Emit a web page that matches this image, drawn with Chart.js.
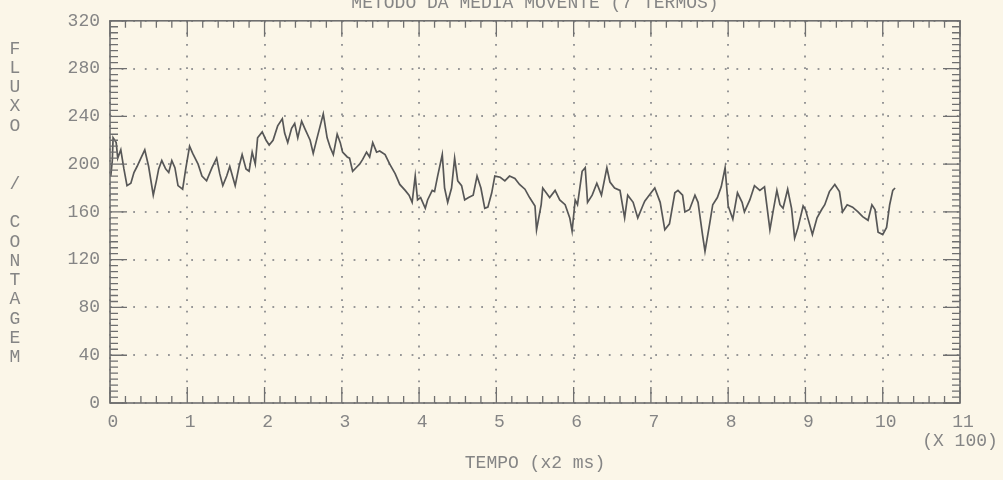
<!DOCTYPE html>
<html>
<head>
<meta charset="utf-8">
<script src="https://cdn.jsdelivr.net/npm/chart.js@4.4.0/dist/chart.umd.min.js"></script>
<style>
  html, body { margin: 0; padding: 0; background: #fbf6e8; }
  #wrap { width: 1003px; height: 480px; }
</style>
</head>
<body>
<div id="wrap"><canvas id="c" width="1003" height="480"></canvas></div>
<script>
// chart texts
const chartTitle = 'METODO DA MEDIA MOVENTE (7 TERMOS)';
const yLabel = 'FLUXO  / CONTAGEM';
const xLabel = 'TEMPO (x2 ms)';
const xUnit = '(X 100)';

// x = sample number (axis labels are in hundreds), y = moving average value
const samples = [1, 3, 4, 8, 10, 14, 18, 22, 27, 31, 35, 40, 45, 50, 56, 60, 63, 67, 72, 76,
  80, 84, 88, 94, 98, 103, 107, 114, 119, 125, 132, 138, 142, 146, 151, 155, 162, 167, 171, 176,
  180, 184, 188, 191, 197, 202, 206, 211, 217, 223, 226, 230, 235, 239, 243, 248, 252, 259, 263, 268,
  272, 276, 281, 285, 289, 294, 298, 301, 307, 310, 314, 320, 323, 327, 332, 336, 340, 345, 349, 356,
  362, 369, 375, 382, 387, 391, 395, 398, 402, 408, 411, 417, 420, 424, 430, 433, 437, 442, 446, 450,
  455, 459, 464, 470, 475, 480, 485, 489, 494, 498, 505, 511, 517, 524, 530, 537, 543, 550, 552, 558,
  560, 569, 576, 582, 589, 595, 598, 602, 605, 611, 615, 618, 624, 630, 636, 643, 647, 653, 660, 666,
  670, 677, 683, 690, 692, 699, 705, 712, 718, 724, 731, 735, 741, 744, 750, 757, 761, 767, 770, 776,
  780, 786, 791, 796, 800, 806, 812, 818, 821, 828, 834, 841, 847, 854, 858, 863, 867, 871, 877, 882,
  886, 890, 897, 900, 903, 909, 915, 921, 925, 931, 938, 944, 948, 954, 961, 968, 974, 981, 986, 990,
  994, 1000, 1005, 1009, 1013, 1016];
const fluxo = [190, 203, 222, 218, 205, 212, 196, 182, 184, 193, 198, 205, 212, 198, 174, 186, 196, 203, 196, 193,
  203, 197, 182, 179, 196, 215, 209, 200, 190, 186, 197, 205, 192, 182, 190, 198, 182, 198, 208, 196,
  194, 210, 200, 222, 227, 220, 216, 220, 232, 238, 226, 218, 230, 234, 222, 236, 230, 220, 209, 222,
  232, 242, 222, 214, 208, 225, 218, 210, 206, 205, 194, 198, 200, 204, 210, 206, 218, 210, 211, 208,
  200, 192, 183, 178, 174, 168, 190, 170, 172, 163, 170, 178, 177, 190, 208, 180, 168, 180, 205, 186,
  182, 170, 172, 174, 190, 180, 163, 164, 176, 190, 189, 186, 190, 188, 183, 179, 172, 165, 145, 166,
  180, 172, 178, 170, 166, 155, 144, 170, 166, 194, 197, 168, 174, 184, 174, 197, 185, 180, 178, 155,
  174, 168, 155, 166, 169, 175, 180, 168, 145, 150, 176, 178, 174, 160, 162, 174, 168, 140, 127, 150,
  166, 172, 181, 197, 165, 154, 176, 168, 160, 170, 182, 178, 181, 145, 160, 178, 166, 163, 179, 163,
  138, 146, 165, 162, 155, 141, 155, 162, 166, 177, 183, 177, 160, 166, 164, 160, 156, 153, 166, 162,
  143, 141, 147, 166, 178, 180];

const yTicks = [0, 40, 80, 120, 160, 200, 240, 280, 320];
const xTicks = [0, 1, 2, 3, 4, 5, 6, 7, 8, 9, 10, 11];

const ink = '#858585';
const lineInk = '#575757';
const monoFont = { family: '"Liberation Mono", "DejaVu Sans Mono", monospace', size: 18 };

const framePlugin = {
  id: 'frame',
  afterDraw(chart) {
    const { ctx, chartArea: a, scales: { x, y } } = chart;
    ctx.save();
    ctx.strokeStyle = '#6f6f6f';
    ctx.lineWidth = 1.6;
    ctx.strokeRect(a.left, a.top, a.right - a.left, a.bottom - a.top);

    // inward tick marks on all four sides
    ctx.lineWidth = 1.3;
    ctx.beginPath();
    for (let v = 0; v <= 1100; v += 20) {
      const px = x.getPixelForValue(v);
      const len = v % 100 === 0 ? 16 : 7;
      ctx.moveTo(px, a.bottom); ctx.lineTo(px, a.bottom - len);
      ctx.moveTo(px, a.top); ctx.lineTo(px, a.top + len);
    }
    for (let v = 0; v <= 320; v += 5) {
      const py = y.getPixelForValue(v);
      const len = v % 40 === 0 ? 17 : 8;
      ctx.moveTo(a.left, py); ctx.lineTo(a.left + len, py);
      ctx.moveTo(a.right, py); ctx.lineTo(a.right - len, py);
    }
    ctx.stroke();

    ctx.fillStyle = ink;
    ctx.font = monoFont.size + 'px ' + monoFont.family;
    ctx.textAlign = 'center';
    ctx.textBaseline = 'alphabetic';
    ctx.fillText(chartTitle, (a.left + a.right) / 2, 8);
    ctx.fillText(xUnit, x.getPixelForValue(1100), 446);

    // stacked vertical y label
    ctx.textBaseline = 'middle';
    yLabel.split('').forEach((ch, i) => {
      ctx.fillText(ch, 15, a.top + 28 + i * 19.3);
    });
    ctx.restore();
  }
};

new Chart(document.getElementById('c'), {
  type: 'line',
  data: {
    datasets: [{
      data: samples.map((s, i) => ({ x: s, y: fluxo[i] })),
      borderColor: lineInk,
      borderWidth: 1.7,
      pointRadius: 0,
      tension: 0,
      fill: false
    }]
  },
  options: {
    responsive: false,
    animation: false,
    layout: { padding: { left: 0, right: 43, top: 20, bottom: 0 } },
    plugins: { legend: { display: false }, tooltip: { enabled: false } },
    scales: {
      x: {
        type: 'linear',
        min: 0,
        max: 1100,
        afterBuildTicks: s => { s.ticks = xTicks.map(v => ({ value: v * 100 })); },
        afterFit: s => { s.height = 77; },
        ticks: {
          callback: v => String(v / 100),
          color: ink,
          font: monoFont,
          padding: 8,
          labelOffset: 3,
          maxRotation: 0
        },
        grid: { color: '#979797', lineWidth: 2, drawTicks: false },
        border: { display: false, dash: [1.8, 9.8] }
      ,
        title: {
          display: true,
          text: xLabel,
          color: ink,
          font: monoFont,
          padding: { top: 0, bottom: 6 }
        }
      },
      y: {
        min: 0,
        max: 320,
        afterBuildTicks: s => { s.ticks = yTicks.map(v => ({ value: v })); },
        afterFit: s => { s.width = 110; },
        ticks: { color: ink, font: monoFont, padding: 10 },
        grid: { color: '#979797', lineWidth: 2, drawTicks: false },
        border: { display: false, dash: [1.8, 9.8] }
      }
    }
  },
  plugins: [framePlugin]
});
</script>
</body>
</html>
